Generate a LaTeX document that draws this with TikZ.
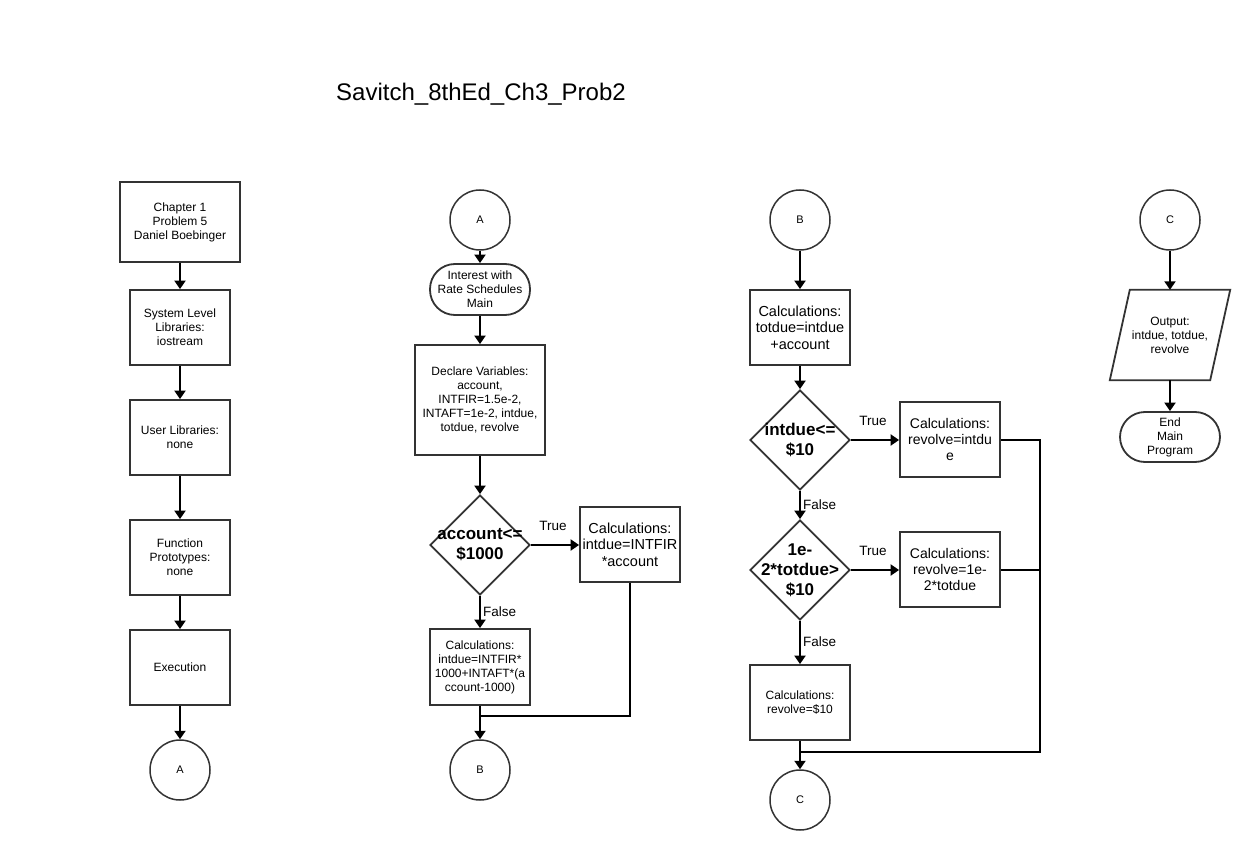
\documentclass[tikz,border=0pt]{standalone}
\usepackage{fontspec}
\setmainfont{Liberation Sans}
\usetikzlibrary{arrows.meta,calc,shapes.geometric}
\begin{document}
\begin{tikzpicture}[x=1pt,y=-1pt,
  line/.style={draw=black,line width=2pt},
  arr/.style={line,-{Triangle[width=11pt,length=8.5pt]}},
  box/.style={draw=black!80,line width=1.8pt,minimum width=100pt,minimum height=75pt,
    align=center,inner sep=1pt,font=\fontsize{12}{14}\selectfont},
  bigbox/.style={box,font=\fontsize{14.5}{16.5}\selectfont},
  term/.style={box,minimum height=50pt,rounded corners=25pt},
  conn/.style={draw=black!80,line width=1.5pt,circle,minimum size=60pt,inner sep=0pt,
    font=\fontsize{11}{13}\selectfont},
  dia/.style={draw=black!80,line width=1.8pt,diamond,minimum width=100pt,minimum height=100pt,inner sep=0pt},
  diatext/.style={align=center,inner sep=0pt,font=\fontsize{17}{20}\selectfont\bfseries},
  lbl/.style={inner sep=0pt,font=\fontsize{13.5}{15}\selectfont}]
\useasboundingbox (0,0) rectangle (1240,850);
\fill[white] (0,0) rectangle (1240,850);

% title
\node[inner sep=0pt,font=\fontsize{24}{28}\selectfont] (title) at (481,94.5) {Savitch\_8thEd\_Ch3\_Prob2};

% ---- column 1: program header ----
\node[box,minimum width=120pt,minimum height=80pt] (hdr) at (180,222) {Chapter 1\\Problem 5\\Daniel Boebinger};
\node[box] (syslib) at (180,327.5) {System Level\\Libraries:\\iostream};
\node[box] (usrlib) at (180,437.5) {User Libraries:\\none};
\node[box] (proto) at (180,557.5) {Function\\Prototypes:\\none};
\node[box] (exec) at (180,667.5) {Execution};
\node[conn] (A1) at (180,770) {A};
\draw[arr] (hdr) -- (syslib);
\draw[arr] (syslib) -- (usrlib);
\draw[arr] (usrlib) -- (proto);
\draw[arr] (proto) -- (exec);
\draw[arr] (exec) -- (A1);

% ---- column 2: interest ----
\node[conn] (A2) at (480,220) {A};
\node[term,minimum height=51pt] (main) at (480,289.5) {Interest with\\Rate Schedules\\Main};
\node[box,minimum width=130pt,minimum height=110pt] (decl) at (480,400) {Declare Variables:\\account,\\INTFIR=1.5e-2,\\INTAFT=1e-2, intdue,\\totdue, revolve};
\node[dia] (d1) at (480,545) {};
\node[diatext] at (d1.center) {account<=\\\$1000};
\node[bigbox] (t1) at (630,544.5) {Calculations:\\intdue=INTFIR\\*account};
\node[box,minimum height=76pt] (f1) at (480,667) {Calculations:\\intdue=INTFIR*\\1000+INTAFT*(a\\ccount-1000)};
\node[conn] (B1) at (480,770) {B};
\coordinate (j1) at (480,716);
\draw[arr] (A2) -- (main);
\draw[arr] (main) -- (decl);
\draw[arr] (decl) -- (d1.north);
\draw[arr] (d1.east) -- (d1.east -| t1.west);
\draw[arr] (d1.south) -- (f1);
\draw[arr] (f1) -- (B1);
\draw[line] (t1.south) |- (j1);
\node[lbl] (true1) at (553,526) {True};
\node[lbl,anchor=west] (false1) at (483,612) {False};

% ---- column 3: revolve ----
\node[conn] (B2) at (800,220) {B};
\node[bigbox] (tot) at (800,327.5) {Calculations:\\totdue=intdue\\+account};
\node[dia] (d2) at (800,440) {};
\node[diatext] at (d2.center) {intdue<=\\\$10};
\node[bigbox,font=\fontsize{14}{16}\selectfont] (t2) at (950,439.5) {Calculations:\\revolve=intdu\\e};
\node[dia] (d3) at (800,570) {};
\node[diatext] at (d3.center) {1e-\\2*totdue>\\\$10};
\node[bigbox,font=\fontsize{14}{16}\selectfont] (t3) at (950,569.5) {Calculations:\\revolve=1e-\\2*totdue};
\node[box] (f3) at (800,702.5) {Calculations:\\revolve=\$10};
\node[conn] (C1) at (800,800) {C};
\coordinate (j2) at (800,752);
\coordinate (r1) at (1040,752);
\draw[arr] (B2) -- (tot);
\draw[arr] (tot) -- (d2.north);
\draw[arr] (d2.east) -- (d2.east -| t2.west);
\draw[arr] (d2.south) -- (d3.north);
\draw[arr] (d3.east) -- (d3.east -| t3.west);
\draw[arr] (d3.south) -- (f3);
\draw[arr] (f3) -- (C1);
\draw[line] (t2.east) -| (r1) -- (j2);
\draw[line] (t3.east) -- (t3.east -| r1);
\node[lbl] (true2) at (873,421) {True};
\node[lbl,anchor=west] (false2) at (803,505) {False};
\node[lbl] (true3) at (873,551) {True};
\node[lbl,anchor=west] (false3) at (803,642) {False};

% ---- column 4: output ----
\node[conn] (C2) at (1170,220) {C};
\node[minimum width=100pt,minimum height=90pt,align=center,inner sep=0pt,
  font=\fontsize{12}{14}\selectfont] (out) at (1170,335) {Output:\\intdue, totdue,\\revolve};
\draw[draw=black!80,line width=1.8pt,line join=miter]
  ($(out.north west)+(10,0)$) -- ($(out.north east)+(10,0)$)
  -- ($(out.south east)+(-10,0)$) -- ($(out.south west)+(-10,0)$) -- cycle;
\node[term] (end) at (1170,437) {End\\Main\\Program};
\draw[arr] (C2) -- (out.north);
\draw[arr] (out.south) -- (end);
\end{tikzpicture}
\end{document}
